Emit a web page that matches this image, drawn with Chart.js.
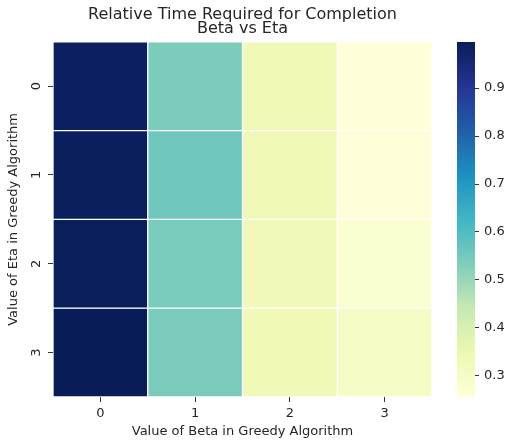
<!DOCTYPE html>
<html lang="en">
<head>
    <meta charset="UTF-8">
    <title>Relative Time Required for Completion</title>
    <script src="https://cdn.jsdelivr.net/npm/chart.js"></script>
    <style>
        body { margin: 0; background: #fff; }
        #wrap { position: relative; width: 506px; height: 442px; }
        #heatWrap { position: absolute; left: 0; top: 0; width: 506px; height: 442px; }
        #barWrap { position: absolute; left: 432px; top: 0; width: 74px; height: 442px; }
    </style>
</head>
<body>
    <div id="wrap">
        <div id="heatWrap"><canvas id="heatChart"></canvas></div>
        <div id="barWrap"><canvas id="colorBar"></canvas></div>
    </div>
    <script>
        // data
        const betaLabels = ['0', '1', '2', '3'];
        const etaLabels = ['0', '1', '2', '3'];
        const timeEta0 = [0.982, 0.538, 0.335, 0.256];
        const timeEta1 = [0.986, 0.557, 0.333, 0.259];
        const timeEta2 = [0.990, 0.543, 0.331, 0.274];
        const timeEta3 = [0.996, 0.541, 0.329, 0.298];
        const colorBarTicks = [0.3, 0.4, 0.5, 0.6, 0.7, 0.8, 0.9];

        const rows = [timeEta0, timeEta1, timeEta2, timeEta3];
        const allValues = rows.flat();
        const vmin = Math.min(...allValues);
        const vmax = Math.max(...allValues);

        // YlGnBu colour stops
        const ylGnBu = ['#ffffd9', '#edf8b1', '#c7e9b4', '#7fcdbb', '#41b6c4', '#1d91c0', '#225ea8', '#253494', '#081d58'];

        function hexToRgb(h) {
            return [parseInt(h.slice(1, 3), 16), parseInt(h.slice(3, 5), 16), parseInt(h.slice(5, 7), 16)];
        }

        function colorFor(v) {
            let t = (v - vmin) / (vmax - vmin);
            t = Math.max(0, Math.min(1, t));
            const pos = t * (ylGnBu.length - 1);
            const i = Math.min(Math.floor(pos), ylGnBu.length - 2);
            const f = pos - i;
            const a = hexToRgb(ylGnBu[i]);
            const b = hexToRgb(ylGnBu[i + 1]);
            const c = a.map((x, k) => Math.round(x + (b[k] - x) * f));
            return `rgb(${c[0]}, ${c[1]}, ${c[2]})`;
        }

        const textColor = '#262626';
        const fontFamily = "'DejaVu Sans', sans-serif";
        Chart.defaults.font.family = fontFamily;
        Chart.defaults.color = textColor;

        // one floating bar per cell, a dataset per eta row
        const heatDatasets = rows.map((row, r) => ({
            label: 'Eta ' + etaLabels[r],
            data: row.map(() => [r, r + 1]),
            backgroundColor: row.map(v => colorFor(v)),
            borderColor: '#ffffff',
            borderWidth: 1,
            borderSkipped: false,
            grouped: false,
            barPercentage: 1,
            categoryPercentage: 1
        }));

        new Chart(document.getElementById('heatChart'), {
            type: 'bar',
            data: {
                labels: betaLabels,
                datasets: heatDatasets
            },
            options: {
                responsive: true,
                maintainAspectRatio: false,
                animation: false,
                layout: { padding: { left: 0, right: 74, top: 0, bottom: 0 } },
                plugins: {
                    legend: { display: false },
                    tooltip: { enabled: false },
                    title: {
                        display: true,
                        text: ['Relative Time Required for Completion', 'Beta vs Eta'],
                        fullSize: false,
                        color: textColor,
                        font: { size: 16, weight: 'normal', lineHeight: 0.93 },
                        padding: { top: 7, bottom: 5 }
                    }
                },
                scales: {
                    x: {
                        grid: { display: true, drawOnChartArea: false, offset: false, tickLength: 5, tickColor: '#333' },
                        border: { display: false },
                        ticks: { font: { size: 13 }, padding: 4, color: textColor },
                        title: {
                            display: true,
                            text: 'Value of Beta in Greedy Algorithm',
                            font: { size: 13 },
                            padding: { top: 0, bottom: 2.5 },
                            color: textColor
                        },
                        afterFit: s => { s.height = 45; }
                    },
                    y: {
                        type: 'linear',
                        min: 0,
                        max: etaLabels.length,
                        reverse: true,
                        afterBuildTicks: s => { s.ticks = etaLabels.map((l, i) => ({ value: i + 0.5 })); },
                        grid: { display: true, drawOnChartArea: false, tickLength: 5, tickColor: '#333' },
                        border: { display: false },
                        ticks: {
                            font: { size: 13 },
                            minRotation: 90,
                            maxRotation: 90,
                            crossAlign: 'center',
                            padding: 7,
                            color: textColor,
                            callback: (v, i) => etaLabels[i]
                        },
                        title: {
                            display: true,
                            text: 'Value of Eta in Greedy Algorithm',
                            font: { size: 13 },
                            padding: { top: 6, bottom: 0 },
                            color: textColor
                        },
                        afterFit: s => { s.width = 53; }
                    }
                }
            }
        });

        // colour bar
        new Chart(document.getElementById('colorBar'), {
            type: 'bar',
            data: {
                labels: ['scale'],
                datasets: [{
                    data: [[vmin, vmax]],
                    borderWidth: 0,
                    borderSkipped: false,
                    barPercentage: 1,
                    categoryPercentage: 1,
                    backgroundColor: ctx => {
                        const chart = ctx.chart;
                        if (!chart.chartArea) return ylGnBu[0];
                        const y = chart.scales.y;
                        const g = chart.ctx.createLinearGradient(0, y.getPixelForValue(vmin), 0, y.getPixelForValue(vmax));
                        ylGnBu.forEach((c, i) => g.addColorStop(i / (ylGnBu.length - 1), c));
                        return g;
                    }
                }]
            },
            options: {
                responsive: true,
                maintainAspectRatio: false,
                animation: false,
                layout: { padding: { left: 25, right: 0, top: 42, bottom: 45 } },
                plugins: { legend: { display: false }, tooltip: { enabled: false } },
                scales: {
                    x: { display: false },
                    y: {
                        position: 'right',
                        min: vmin,
                        max: vmax,
                        afterBuildTicks: s => { s.ticks = colorBarTicks.map(v => ({ value: v })); },
                        grid: { display: true, drawOnChartArea: false, tickLength: 4, tickColor: '#333' },
                        border: { display: false },
                        ticks: { font: { size: 13 }, padding: 5, color: textColor, callback: v => v.toFixed(1) },
                        afterFit: s => { s.width = 31; }
                    }
                }
            }
        });
    </script>
</body>
</html>
